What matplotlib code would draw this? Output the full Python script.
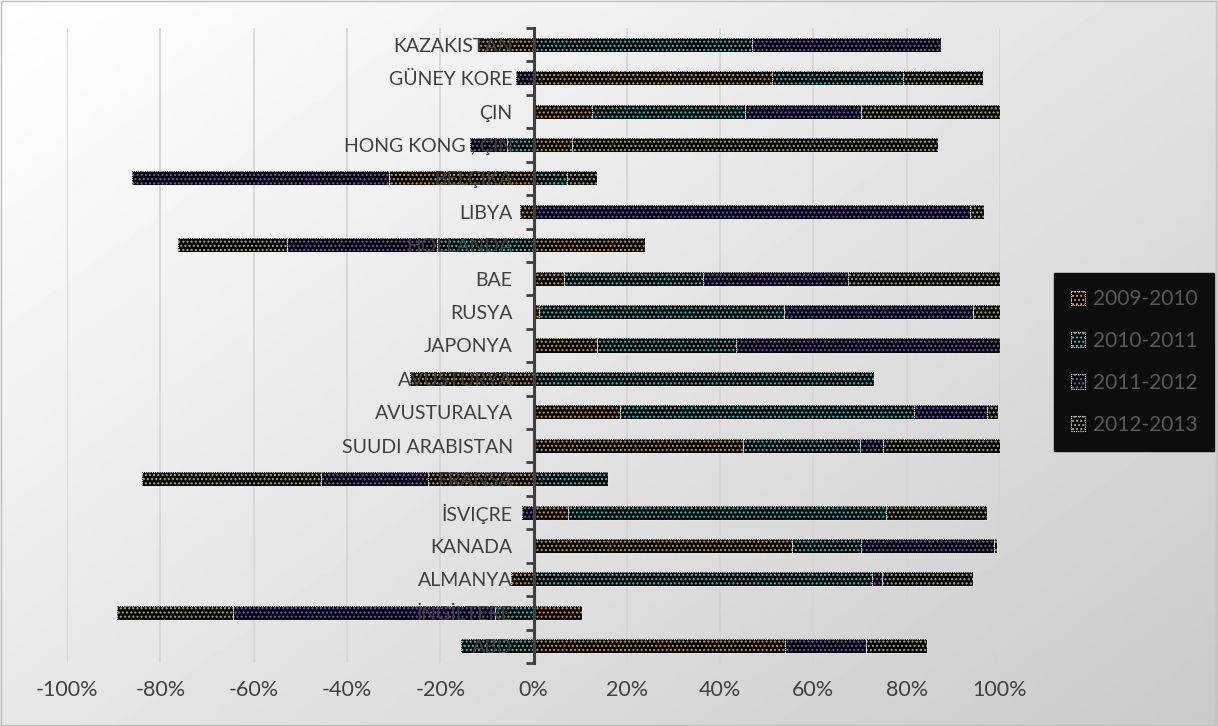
import numpy as np
import matplotlib.pyplot as plt
from matplotlib.patches import Patch, Rectangle
from matplotlib.legend_handler import HandlerTuple

plt.rcParams['font.family'] = ['Lato', 'DejaVu Sans']
plt.rcParams['hatch.linewidth'] = 1.0

# Ülkeler (yukarıdan aşağıya)
countries = ["KAZAKISTAN", "GÜNEY KORE", "ÇIN", "HONG KONG , ÇIN", "BELÇIKA", "LIBYA",
             "HOLLANDA", "BAE", "RUSYA", "JAPONYA", "AVUSTURYA", "AVUSTURALYA",
             "SUUDI ARABISTAN", "FRANSA", "İSVIÇRE", "KANADA", "ALMANYA", "İNGİLTERE", "ABD"]

periods = ["2009-2010", "2010-2011", "2011-2012", "2012-2013"]

# shares in percent
s_2009_2010 = [-12.0, 51.1, 12.5, 8.2, -31.0, -2.8, 23.8, 6.5, 1.2, 13.7, -26.5, 18.6,
               45.0, -22.6, 7.3, 55.5, -4.9, 10.5, 54.0]
s_2010_2011 = [46.8, 28.2, 32.9, -5.7, 7.2, 0.0, -20.7, 29.9, 52.5, 29.7, 73.0, 62.9,
               25.0, 15.9, 68.3, 14.8, 72.5, -8.3, -15.6]
s_2011_2012 = [40.5, -3.8, 24.7, -7.9, -55.1, 93.5, -32.2, 31.1, 40.5, 56.6, 0.0, 15.7,
               5.0, -22.9, -2.4, 28.5, 2.2, -56.2, 17.2]
s_2012_2013 = [0.0, 17.0, 29.9, 78.5, 6.4, 3.1, -23.3, 32.4, 5.8, 0.0, 0.0, 2.4,
               25.0, -38.5, 21.6, 0.6, 19.6, -24.7, 13.1]

series = [s_2009_2010, s_2010_2011, s_2011_2012, s_2012_2013]
dot_colors = ["#d09a3a", "#3cc4c4", "#7a52c8", "#a8aa66"]

W, H = 1218, 726
fig = plt.figure(figsize=(W / 100, H / 100), dpi=100)

# background gradient (white top-left -> gray bottom-right)
bg = fig.add_axes([0, 0, 1, 1], zorder=-5)
gx, gy = np.meshgrid(np.linspace(0, 1, 300), np.linspace(0, 1, 200))
grad = 1.0 - 0.21 * (0.55 * gx + 0.45 * gy)
bg.imshow(grad, cmap="gray", vmin=0, vmax=1, aspect="auto", extent=[0, 1, 1, 0])
bg.set_axis_off()
fig.patches.append(Rectangle((0.0005, 0.001), 0.998, 0.997, transform=fig.transFigure,
                             fill=False, edgecolor="#bfbfbf", lw=1))

left, right, top, bottom = 67, 1000, 28, 663
ax = fig.add_axes([left / W, 1 - bottom / H, (right - left) / W, (bottom - top) / H])
ax.patch.set_alpha(0)

n = len(countries)
y = np.arange(n)[::-1]
pos = np.zeros(n)
neg = np.zeros(n)
h = 0.42
for vals, col in zip(series, dot_colors):
    v = np.array(vals) / 100.0
    base = np.where(v >= 0, pos, neg)
    ax.barh(y, v, left=base, height=h, color="black", hatch="....",
            edgecolor=col, linewidth=0, zorder=1)
    ax.barh(y, v, left=base, height=h, fill=False, edgecolor="#e6e6e6",
            linestyle=(0, (1, 1)), linewidth=0.8, zorder=1.1)
    pos = pos + np.where(v > 0, v, 0)
    neg = neg + np.where(v < 0, v, 0)

ax.set_xlim(-1, 1)
ax.set_ylim(-0.5, n - 0.5)
xt = np.linspace(-1, 1, 11)
for t in xt:
    ax.axvline(t, color="#d4d4d4", linewidth=1.2, zorder=0.5)
ax.set_xticks(xt)
ax.set_xticklabels([f"{int(round(t * 100))}%" for t in xt])
ax.tick_params(axis="x", length=0, pad=12, labelsize=15.5, labelcolor="#404040")

ax.set_yticks(y)
ax.set_yticklabels(countries)
ax.set_yticks(np.arange(n + 1) - 0.5, minor=True)
ax.tick_params(axis="y", which="major", length=0, pad=15, labelsize=14, labelcolor="#404040")
ax.tick_params(axis="y", which="minor", length=6, width=2, color="#404040", direction="out")
ax.xaxis.set_zorder(2.5)
ax.yaxis.set_zorder(2.5)

for s in ["top", "right", "bottom"]:
    ax.spines[s].set_visible(False)
ax.spines["left"].set_position(("data", 0))
ax.spines["left"].set_color("#404040")
ax.spines["left"].set_linewidth(2.2)
ax.spines["left"].set_zorder(3)

handles = [(Patch(facecolor="black", hatch="....", edgecolor=c, linewidth=0),
            Patch(fill=False, edgecolor="#e6e6e6", linestyle=(0, (1, 1)), linewidth=0.8))
           for c in dot_colors]
leg = fig.legend(handles, periods, loc="center left",
                 bbox_to_anchor=(1054 / W, 1 - 362 / H), bbox_transform=fig.transFigure,
                 handler_map={tuple: HandlerTuple(ndivide=1, pad=0)},
                 fontsize=15, labelcolor="#595959", frameon=True, fancybox=False,
                 labelspacing=1.05, handlelength=0.7, handleheight=0.7,
                 handletextpad=0.35, borderpad=0.8, borderaxespad=0)
leg.get_frame().set_facecolor("#0d0d0d")
leg.get_frame().set_edgecolor("#0d0d0d")
leg.get_frame().set_alpha(1)

fig.savefig("out.png", dpi=100)
